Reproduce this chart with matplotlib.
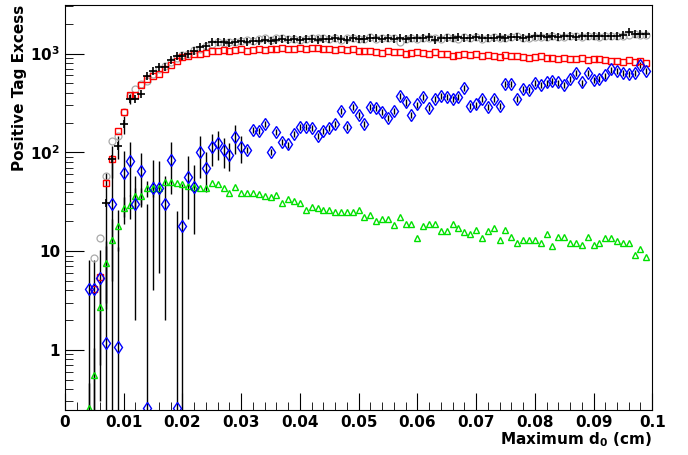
import numpy as np
import matplotlib
matplotlib.use("Agg")
import matplotlib.pyplot as plt
from matplotlib.ticker import FixedLocator, NullFormatter, LogLocator

x_start, x_step = 0.004, 0.001
black = [None, None, None, 31, 85, 116, 192, 350, 350, 390, 590, 660, 730, 730, 860, 950, 950, 990, 1060, 1170, 1200, 1320,
         1300, 1310, 1290, 1320, 1330, 1300, 1340, 1350, 1360, 1330, 1380, 1400, 1380, 1390, 1370, 1400, 1410, 1380, 1400, 1390,
         1420, 1400, 1380, 1430, 1410, 1400, 1420, 1440, 1390, 1420, 1400, 1430, 1410, 1440, 1420, 1450, 1460, 1380, 1440, 1450,
         1430, 1460, 1450, 1420, 1470, 1440, 1450, 1430, 1460, 1450, 1480, 1460, 1450, 1470, 1500, 1490, 1480, 1500, 1470, 1490,
         1500, 1480, 1510, 1500, 1490, 1520, 1500, 1510, 1500, 1530, 1650, 1560, 1580, 1560]
grey = [None, 8.6, 13.4, 58, 130, 145, 255, 370, 440, 490, 530, 620, 700, 750, 830, 900, 960, 1000, 1080, 1120, 1180, 1250,
        1300, 1280, 1320, 1300, 1350, 1380, 1330, 1400, 1420, 1360, 1430, 1420, 1400, 1410, 1380, 1390, 1450, 1420, 1430, 1400,
        1440, 1380, 1420, 1450, 1400, 1410, 1460, 1390, 1430, 1420, 1440, 1300, 1410, 1450, 1400, 1430, 1420, 1440, 1400, 1470,
        1450, 1410, 1460, 1430, 1480, 1400, 1440, 1470, 1450, 1430, 1460, 1490, 1450, 1440, 1480, 1470, 1460, 1500, 1480, 1470,
        1510, 1490, 1470, 1500, 1520, 1480, 1510, 1490, 1500, 1520, 1540, 1560, 1530, 1550]
red = [None, 4.1, 5.5, 49, 85, 163, 255, 380, 380, 480, 550, 590, 620, 700, 770, 840, 920, 940, 990, 1000, 1020, 1050,
       1060, 1080, 1070, 1090, 1100, 1060, 1080, 1110, 1090, 1100, 1120, 1150, 1120, 1110, 1130, 1100, 1140, 1150, 1120, 1110,
       1090, 1100, 1080, 1110, 1070, 1050, 1060, 1040, 1020, 1050, 1030, 1040, 1000, 1020, 1040, 1010, 990, 1030, 1000, 980,
       950, 970, 990, 960, 980, 940, 960, 950, 930, 960, 940, 950, 920, 900, 920, 940, 910, 900, 890, 910, 880, 890, 900, 870,
       880, 890, 860, 850, 840, 830, 860, 820, 850, 800]
blue = [4.1, 4.1, 5.3, 1.17, 30, 1.07, 62, 81, 30, 64, 0.26, 44, 44, 30, 83, 0.26, 18, 56, 45, 100, 70, 112, 123, 105, 94,
        142, 112, 105, 170, 163, 192, 100, 160, 127, 120, 152, 182, 182, 178, 145, 165, 178, 192, 260, 180, 290, 240, 192, 290,
        280, 255, 225, 260, 370, 320, 240, 305, 360, 280, 345, 370, 365, 350, 365, 445, 295, 305, 345, 290, 350, 295, 490, 490,
        350, 440, 430, 500, 480, 510, 530, 510, 480, 550, 640, 510, 640, 540, 550, 600, 690, 660, 640, 620, 640, 770, 660]
green = [0.26, 0.55, 2.7, 7.6, 13, 18, 27, 29, 36, 36, 43, 43, 43, 50, 50, 49, 48, 46, 45, 43, 43, 49, 48, 43, 39, 45, 39,
         39, 39, 38, 36, 35, 37, 31, 34, 32, 31, 26, 28, 27, 26, 26, 25, 25, 25, 25, 26, 22, 23, 20, 21, 21, 18.5, 22, 19, 19,
         13.7, 18, 19, 19, 16, 16, 19, 17, 15.5, 15, 16.5, 13.7, 16, 17, 13, 16.5, 14, 12.2, 13, 13, 13, 12.2, 15, 11.3, 14, 14,
         12, 12, 11.5, 14, 11.5, 12, 13.5, 13.5, 12.5, 12, 12, 9.2, 10.5, 8.8]
# errors on the blue points (early bins large)
blue_err_early = [4, 4, 5, 10, 60, 10, 40, 45, 28, 35, 30, 40, 38, 28, 45, 25, 30, 35, 30, 45, 30, 40, 40, 35, 30, 45, 35]

def arr(v):
    return np.array([np.nan if a is None else a for a in v], float)

def xs(v):
    return x_start + x_step * np.arange(len(v))

fig = plt.figure(figsize=(6.88, 4.55), dpi=100)
ax = fig.add_axes([0.0945, 0.099, 0.8535, 0.89])
ax.set_yscale("log")

b = arr(blue)
be = np.array(blue_err_early + [0.07 * v for v in blue[len(blue_err_early):]])
lo = np.minimum(be, b - 0.2)
ax.errorbar(xs(b), b, yerr=[lo, be], fmt="none", ecolor="black", elinewidth=1)
g = arr(green)
ge = [0.2, 0.5, 2, 5, 8, 8, 8, 8, 8, 8, 8, 8]
ax.errorbar(xs(g)[:12], g[:12], yerr=[np.minimum(g[:12] * 0.9, ge), ge], fmt="none", ecolor="black", elinewidth=1)
bk = arr(black)
ax.errorbar(xs(bk)[:8], bk[:8], yerr=[[0, 0, 0, 28, 30, 30, 40, 40], [0, 0, 0, 30, 30, 30, 40, 40]],
            fmt="none", ecolor="black", elinewidth=1)

ms = 5
ax.plot(xs(grey), arr(grey), "o", mfc="none", mec="#aaaaaa", ms=ms, mew=0.9)
ax.plot(xs(red), arr(red), "s", mfc="none", mec="red", ms=ms, mew=1.0)
ax.plot(xs(g), g, "^", mfc="none", mec="#00e000", ms=ms, mew=1.0)
ax.plot(xs(b), b, "d", mfc="none", mec="blue", ms=ms + 1, mew=1.0)
ax.plot(xs(bk), bk, "+", color="black", ms=ms + 1, mew=1.2)

ax.set_xlim(0, 0.1)
ax.set_ylim(0.246, 3100)
ax.set_xticks(np.arange(0, 0.1001, 0.01))
ax.set_xticklabels(["0", "0.01", "0.02", "0.03", "0.04", "0.05", "0.06", "0.07", "0.08", "0.09", "0.1"],
                   fontweight="bold", fontsize=11)
ax.xaxis.set_minor_locator(FixedLocator(np.arange(0, 0.1001, 0.002)))
ax.yaxis.set_major_locator(FixedLocator([1, 10, 100, 1000]))
ax.set_yticklabels(["1", "10", r"$\mathbf{10^2}$", r"$\mathbf{10^3}$"], fontweight="bold", fontsize=11)
ax.yaxis.set_minor_locator(LogLocator(base=10, subs=np.arange(2, 10)))
ax.yaxis.set_minor_formatter(NullFormatter())
ax.tick_params(which="both", direction="in", top=False, right=False)
ax.tick_params(which="major", length=12)
ax.tick_params(which="minor", length=6)
ax.tick_params(axis="y", which="major", length=14)
ax.set_xlabel(r"Maximum d$_\mathbf{0}$ (cm)", fontweight="bold", fontsize=11, loc="right", labelpad=0)
ax.set_ylabel("Positive Tag Excess", fontweight="bold", fontsize=11, loc="top", labelpad=2)
fig.savefig("out.png", dpi=100)
